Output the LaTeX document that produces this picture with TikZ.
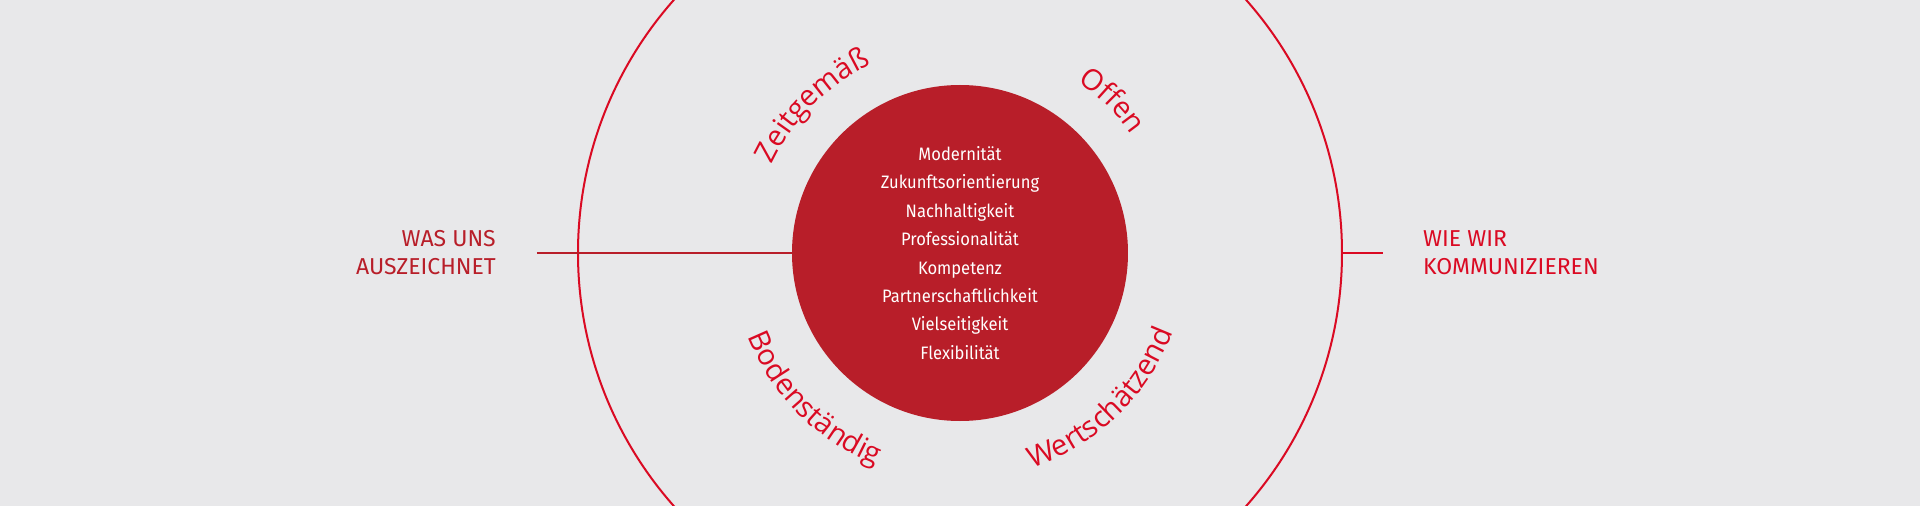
\documentclass[tikz,border=0pt]{standalone}
\usepackage{fontspec}
\setmainfont{Fira Sans}
\newfontfamily\arcfont{Open Sans}
\newfontfamily\corefont{Fira Sans}[FakeStretch=0.92]
\usepackage{xcolor}
\usepackage{tikz}
\usetikzlibrary{positioning,decorations.text}
\definecolor{bggray}{HTML}{E8E8EA}
\definecolor{signal}{HTML}{DA0A23}
\definecolor{wine}{HTML}{B81E29}
\tikzset{
  core/.style={circle, fill=wine, minimum size=336pt, inner sep=0pt, text=white, align=center, font=\corefont\fontsize{18}{28.4}\selectfont},
  ring/.style={circle, draw=signal, line width=2pt, minimum size=764pt, inner sep=0pt},
  sidelabel/.style={inner sep=0pt, font=\fontsize{23}{28}\selectfont},
  arclabel/.style={decorate, decoration={text along path, text align=center, text={|\arcfont\fontsize{29}{33}\selectfont\color{signal}|#1}}}
}

\begin{document}
\begin{tikzpicture}[x=1pt,y=1pt]
			\fill[bggray] (-960,-253) rectangle (960,253);
			\useasboundingbox (-960,-253) rectangle (960,253);
			\node[ring] (ring) at (0,0) {};
			\node[core] (core) at (0,0) {Modernität\\Zukunftsorientierung\\Nachhaltigkeit\\Professionalität\\Kompetenz\\Partnerschaftlichkeit\\Vielseitigkeit\\Flexibilität};
			\coordinate (lefttip) at (-423,0);
			\coordinate (righttip) at (423,0);
			\draw[wine, line width=2pt] (lefttip) -- (core.west);
			\draw[signal, line width=2pt] (ring.east) -- (righttip);
			\node[sidelabel, text=wine, align=right, left=41pt of lefttip] (was) {WAS UNS\\AUSZEICHNET};
			\node[sidelabel, text=signal, align=left, right=40pt of righttip] (wie) {WIE WIR\\KOMMUNIZIEREN};
			\path[arclabel=Zeitgemäß] (166:208) arc[start angle=166, end angle=104, radius=208];
			\path[arclabel=Offen] (75:208) arc[start angle=75, end angle=15, radius=208];
			\path[arclabel=Bodenständig] (190:228) arc[start angle=190, end angle=260, radius=228];
			\path[arclabel=Wertschätzend] (280:227) arc[start angle=280, end angle=348, radius=227];
\end{tikzpicture}
\end{document}
